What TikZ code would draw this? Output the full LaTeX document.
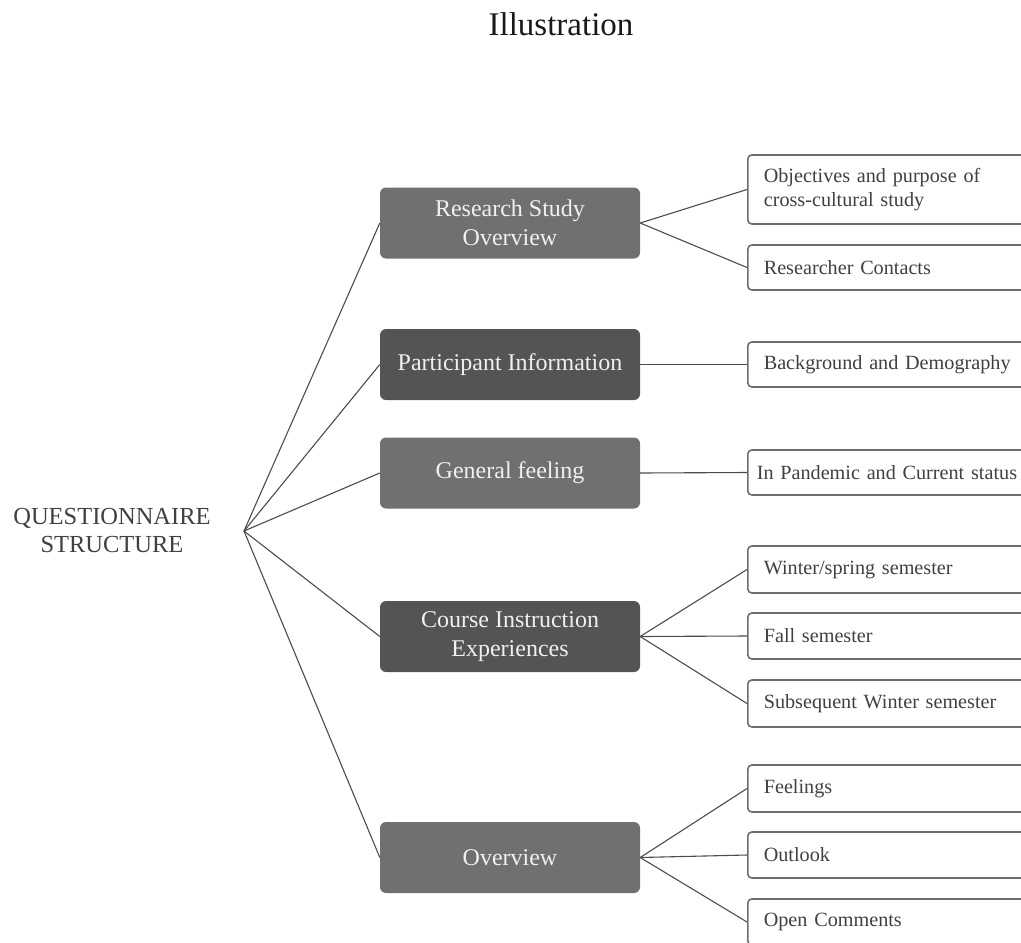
\documentclass[tikz,border=0pt]{standalone}
\usepackage{fontspec}
\setmainfont{Liberation Serif}
\begin{document}
\begin{tikzpicture}[x=1pt,y=-1pt,
  mid/.style={rounded corners=6pt, minimum width=260pt, minimum height=71pt, inner sep=0pt,
    text=white!94!black, align=center, font=\fontsize{24}{29}\selectfont},
  midlight/.style={mid, fill=black!56},
  middark/.style={mid, fill=black!67},
  leaf/.style={draw=black!57, line width=1.6pt, rounded corners=4pt, anchor=west, fill=white,
    text width=330pt, inner xsep=16pt, inner ysep=0pt, align=left, text=black!75,
    font=\fontsize{20.2}{24.5}\selectfont},
  conn/.style={draw=black!70, line width=1.1pt}]
\useasboundingbox (0,0) rectangle (1021,943);
\clip (0,0) rectangle (1021,943);

\node[font=\fontsize{33}{38}\selectfont, text=black!90] (title) at (561,24) {Illustration};

\node[align=center, text=black!75, font=\fontsize{24.5}{28}\selectfont] (roottext) at (112,531) {QUESTIONNAIRE\\STRUCTURE};
\coordinate (root) at (244,531);

\node[midlight] (m1) at (510,223) {Research Study\\Overview};
\node[middark]  (m2) at (510,364.5) {Participant Information};
\node[midlight] (m3) at (510,473) {General feeling};
\node[middark]  (m4) at (510,636.5) {Course Instruction\\Experiences};
\node[midlight] (m5) at (510,857.5) {Overview};

\node[leaf, minimum height=69pt] (r1) at (747,189.5) {Objectives and purpose of\\cross-cultural study};
\node[leaf, minimum height=45pt] (r2) at (747,267.5) {Researcher Contacts};
\node[leaf, minimum height=45pt] (r3) at (747,364.5) {Background and Demography};
\node[leaf, minimum height=45pt, inner xsep=9pt] (r4) at (747,472.5) {In Pandemic and Current status};
\node[leaf, minimum height=47pt] (r5) at (747,569.5) {Winter/spring semester};
\node[leaf, minimum height=46pt] (r6) at (747,636) {Fall semester};
\node[leaf, minimum height=47pt] (r7) at (747,703.5) {Subsequent Winter semester};
\node[leaf, minimum height=47pt] (r8) at (747,788.5) {Feelings};
\node[leaf, minimum height=46pt] (r9) at (747,855) {Outlook};
\node[leaf, minimum height=46pt] (r10) at (747,922) {Open Comments};

\foreach \m in {m1,m2,m3,m4,m5} \draw[conn] (root) -- (\m.west);
\draw[conn] (m1.east) -- (r1.west);
\draw[conn] (m1.east) -- (r2.west);
\draw[conn] (m2.east) -- (r3.west);
\draw[conn] (m3.east) -- (r4.west);
\draw[conn] (m4.east) -- (r5.west);
\draw[conn] (m4.east) -- (r6.west);
\draw[conn] (m4.east) -- (r7.west);
\draw[conn] (m5.east) -- (r8.west);
\draw[conn] (m5.east) -- (r9.west);
\draw[conn] (m5.east) -- (r10.west);
\end{tikzpicture}
\end{document}
